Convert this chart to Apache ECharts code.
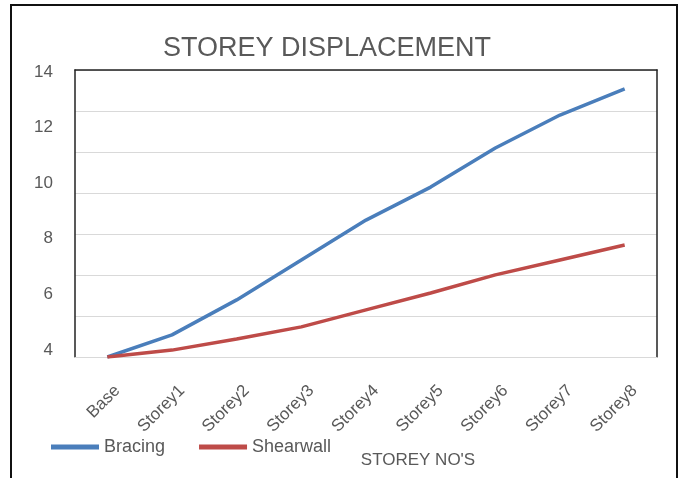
<!DOCTYPE html>
<html>
<head>
<meta charset="utf-8">
<script src="https://cdn.jsdelivr.net/npm/echarts@6/dist/echarts.min.js"></script>
<style>
html,body{margin:0;padding:0;background:#fff;}
#c{width:679px;height:478px;}
</style>
</head>
<body>
<div id="c"></div>
<script>
var categories = ['Base','Storey1','Storey2','Storey3','Storey4','Storey5','Storey6','Storey7','Storey8'];
var bracing = [4.0, 4.77, 5.99, 7.38, 8.77, 9.92, 11.28, 12.43, 13.34];
var shearwall = [4.0, 4.24, 4.63, 5.05, 5.64, 6.23, 6.86, 7.38, 7.90];
var yTickLabels = [4, 6, 8, 10, 12, 14];
var gridLineSteps = 7;

var FONT = 'Liberation Sans';
var TXT = '#595959';
var chart = echarts.init(document.getElementById('c'));
chart.setOption({
  animation: false,
  backgroundColor: '#fff',
  title: {
    text: 'STOREY DISPLACEMENT',
    left: 158, top: 30,
    textStyle: {fontFamily: FONT, fontSize: 27, fontWeight: 'normal', color: TXT}
  },
  graphic: [{
    type: 'rect', shape: {x: 11, y: 5, width: 666, height: 490},
    style: {fill: 'none', stroke: '#111', lineWidth: 2}, silent: true
  }],
  legend: {
    left: 46, top: 433, itemWidth: 48, itemHeight: 5, itemGap: 34,
    icon: 'rect',
    textStyle: {fontFamily: FONT, fontSize: 18, color: TXT},
    data: ['Bracing', 'Shearwall']
  },
  grid: [
    {left: 75, right: 22, top: 70, bottom: 121},
    {left: 85, right: 12, top: 72, bottom: 128}
  ],
  xAxis: [{
    type: 'category', data: categories, boundaryGap: true, position: 'bottom', gridIndex: 0,
    axisLine: {lineStyle: {color: '#d9d9d9', width: 1}},
    axisTick: {show: false},
    axisLabel: {show: false},
    name: "STOREY NO'S", nameLocation: 'middle', nameGap: 95,
    nameTextStyle: {fontFamily: FONT, fontSize: 17, color: TXT, padding: [0, 0, 0, 104]}
  }, {
    type: 'category', data: categories, position: 'top', gridIndex: 0,
    axisLine: {lineStyle: {color: '#222', width: 1.5}},
    axisTick: {show: false}, axisLabel: {show: false}
  }, {
    type: 'category', data: categories, boundaryGap: true, position: 'bottom', gridIndex: 1,
    axisLine: {show: false}, axisTick: {show: false},
    axisLabel: {rotate: 45, margin: 38, fontFamily: FONT, fontSize: 17, color: TXT}
  }],
  yAxis: [{
    type: 'value', min: yTickLabels[0], max: yTickLabels[yTickLabels.length - 1], interval: 2,
    position: 'left', gridIndex: 0,
    axisLine: {show: true, lineStyle: {color: '#222', width: 1.5}},
    axisTick: {show: false},
    splitLine: {show: false},
    axisLabel: {show: false}
  }, {
    type: 'value', min: 0, max: gridLineSteps, interval: 1, position: 'right', gridIndex: 0,
    axisLine: {show: true, lineStyle: {color: '#222', width: 1.5}},
    axisTick: {show: false}, axisLabel: {show: false},
    splitLine: {show: true, lineStyle: {color: '#d9d9d9', width: 1}}
  }, {
    type: 'value', min: yTickLabels[0], max: yTickLabels[yTickLabels.length - 1], interval: 2,
    position: 'left', gridIndex: 1,
    axisLine: {show: false}, axisTick: {show: false}, splitLine: {show: false},
    axisLabel: {margin: 32, fontFamily: FONT, fontSize: 17, color: TXT}
  }],
  series: [{
    name: 'Bracing', type: 'line', data: bracing, xAxisIndex: 0, yAxisIndex: 0,
    symbol: 'none', lineStyle: {color: '#4a7ebb', width: 3.5}, itemStyle: {color: '#4a7ebb'}
  }, {
    name: 'Shearwall', type: 'line', data: shearwall, xAxisIndex: 0, yAxisIndex: 0,
    symbol: 'none', lineStyle: {color: '#be4b48', width: 3.5}, itemStyle: {color: '#be4b48'}
  }]
});
</script>
</body>
</html>
